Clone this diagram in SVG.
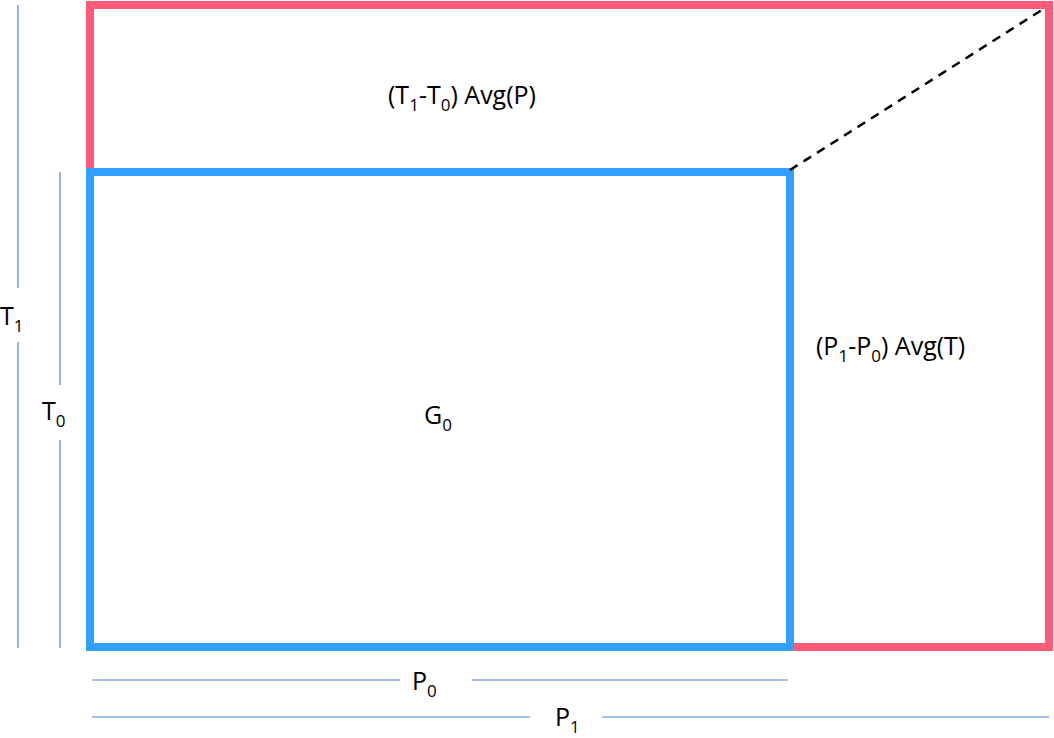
<svg xmlns="http://www.w3.org/2000/svg" width="1054" height="738" viewBox="0 0 1054 738">
<style>
text{font-family:"Open Sans","Liberation Sans",sans-serif;font-size:25px;fill:#000}
.dim{stroke:#4a7fe0;stroke-width:1.2}
</style>
<rect width="1054" height="738" fill="#fff"/>
<g id="outer"><rect x="90" y="5" width="959" height="642" fill="none" stroke="#ff5a78" stroke-width="8"/></g>
<g id="inner"><rect x="90" y="172" width="700" height="475" fill="none" stroke="#33a0ff" stroke-width="8"/></g>
<g id="connectors">
<line x1="790" y1="170" x2="1045" y2="8" stroke="#000" stroke-width="2.5" stroke-dasharray="9,7"/>
<line class="dim" x1="18" y1="5" x2="18" y2="288"/><line class="dim" x1="18" y1="342" x2="18" y2="648"/>
<line class="dim" x1="60" y1="172" x2="60" y2="385"/><line class="dim" x1="60" y1="440" x2="60" y2="648"/>
<line class="dim" x1="92" y1="680" x2="400" y2="680"/><line class="dim" x1="472" y1="680" x2="788" y2="680"/>
<line class="dim" x1="92" y1="717" x2="530" y2="717"/><line class="dim" x1="602" y1="717" x2="1049" y2="717"/>
</g>
<g id="labels">
<text x="388" y="104">(T<tspan font-size="17" dy="7">1</tspan><tspan dy="-7">-T</tspan><tspan font-size="17" dy="7">0</tspan><tspan dy="-7">) Avg(P)</tspan></text>
<text x="816" y="355">(P<tspan font-size="17" dy="7">1</tspan><tspan dy="-7">-P</tspan><tspan font-size="17" dy="7">0</tspan><tspan dy="-7">) Avg(T)</tspan></text>
<text x="424" y="424">G<tspan font-size="17" dy="7">0</tspan></text>
<text x="0" y="325">T<tspan font-size="17" dy="7">1</tspan></text>
<text x="42" y="420">T<tspan font-size="17" dy="7">0</tspan></text>
<text x="412" y="690">P<tspan font-size="17" dy="7">0</tspan></text>
<text x="555" y="726">P<tspan font-size="17" dy="7">1</tspan></text>
</g>
</svg>
